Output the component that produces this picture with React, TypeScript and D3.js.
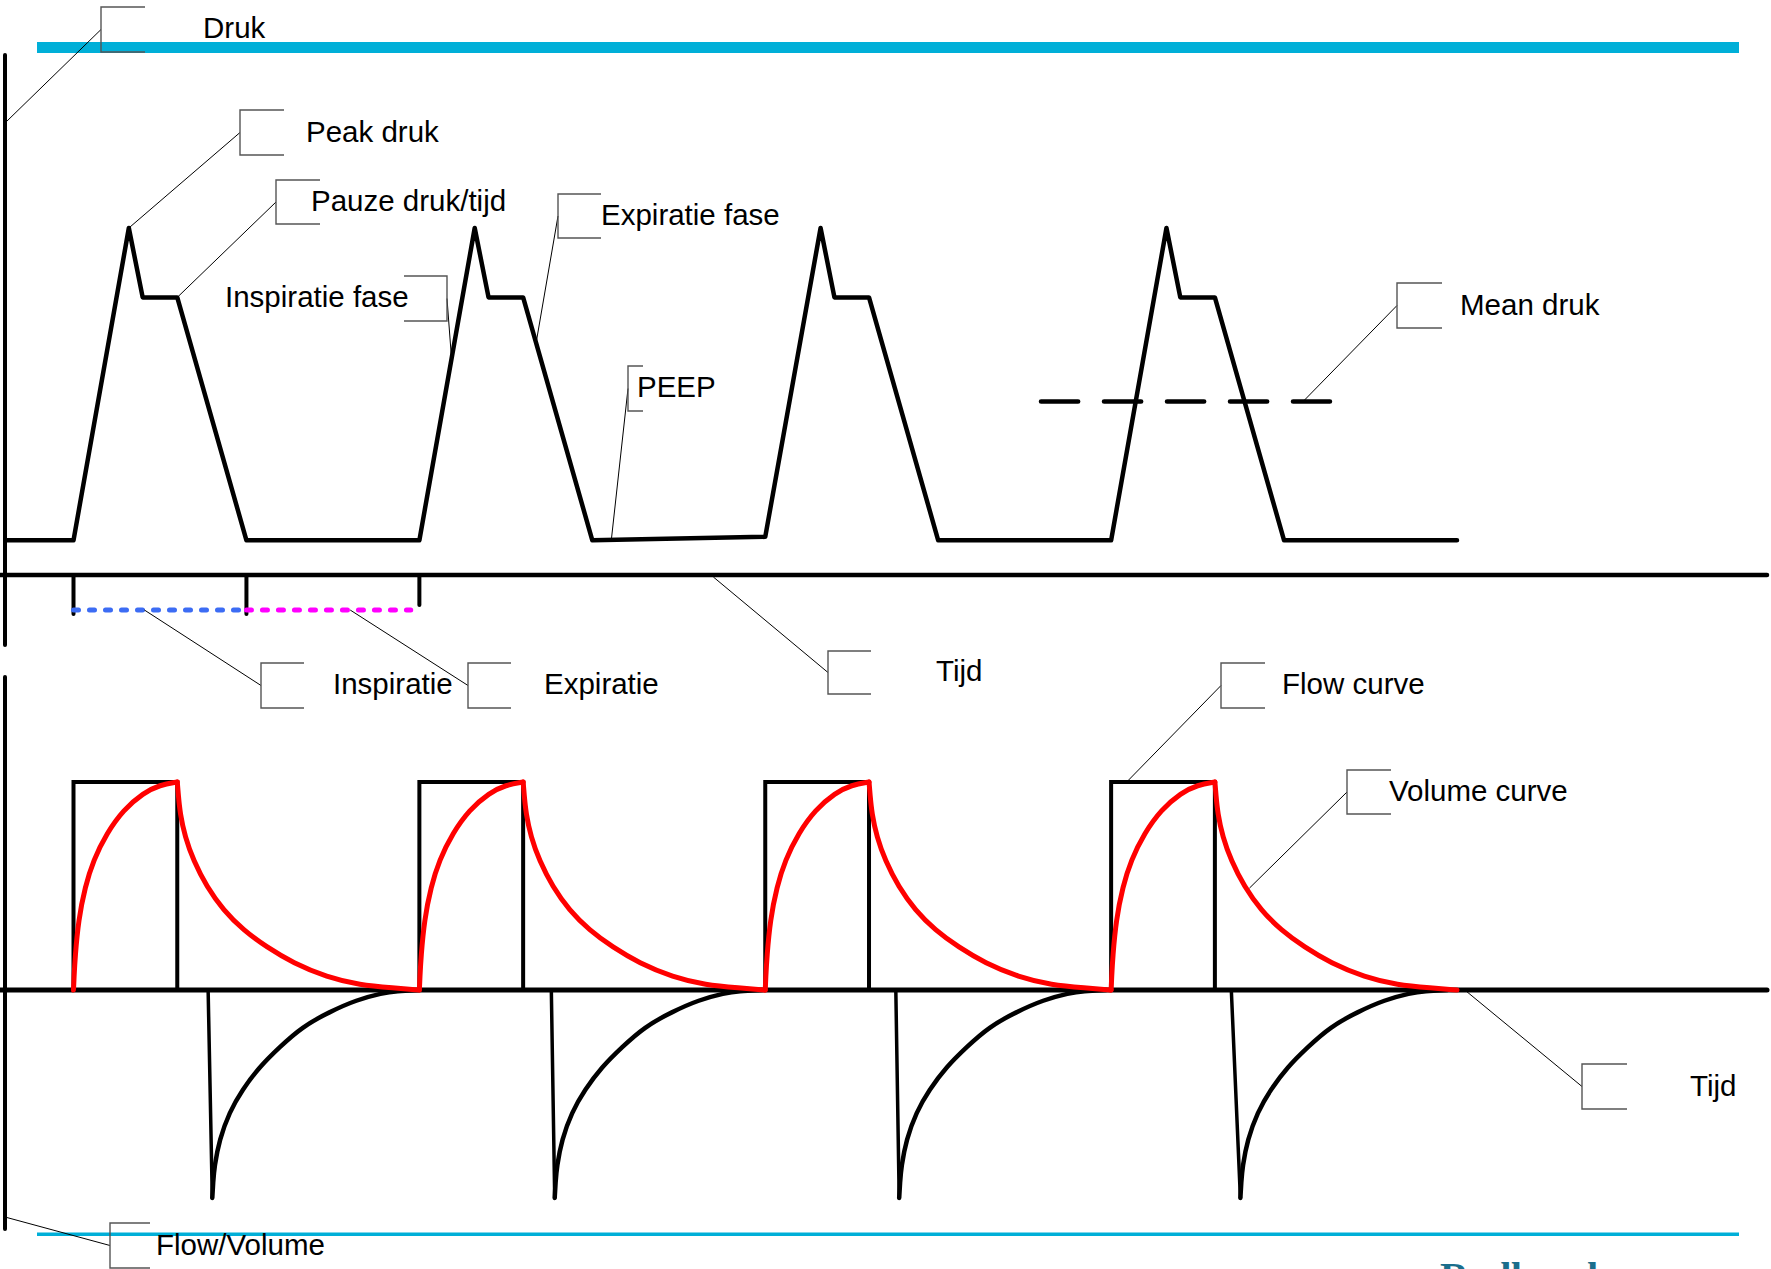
import React from "react";
import * as d3 from "d3";

// ---------- DATA ----------
// time in s, pressure in cmH2O, flow in L/min, volume in mL
const cycleStarts = [0, 4, 8, 12];
const timeDomain = [0, 16];

const pressureTimes = [-0.79, 0, 0.64, 0.8, 1.2, 2.0, 4.0, 4.64, 4.8, 5.2, 6.0, 8.0, 8.64, 8.8, 9.2, 10.0, 12.0, 12.64, 12.8, 13.2, 14.0, 16.0];
const pressureValues = [3, 3, 30, 24, 24, 3, 3, 30, 24, 24, 3, 3.3, 30, 24, 24, 3, 3, 30, 24, 24, 3, 3];
const meanPressure = 15;
const meanPressureSpan = [11.19, 14.53];

const phaseTicks = [0, 2, 4];
const inspirationSpan = [0, 2];
const expirationSpan = [2, 3.9];

const inspFlow = 40;
const inspDuration = 1.2;
const expSpikeOnset = [1.557, 5.526, 9.51, 13.39];
const expSpikeMin = [1.605, 5.565, 9.549, 13.495];
const expFlowOffsets = [0, 0.01, 0.024, 0.082, 0.197, 0.347, 0.544, 0.777, 1.037, 1.357, 1.667, 1.967, 2.127, 2.395];
const expFlowValues = [-40, -37, -34, -28.8, -23.5, -19.2, -14.8, -11, -7.1, -4.2, -1.9, -0.6, -0.2, 0];

const volInspOffsets = [0, 0.006, 0.0185, 0.057, 0.134, 0.23, 0.385, 0.577, 0.808, 1.0, 1.2];
const volInspValues = [0, 30, 79, 168, 248, 312, 377, 433, 474, 493, 500];
const volExpOffsets = [1.2, 1.212, 1.232, 1.29, 1.386, 1.541, 1.733, 1.964, 2.235, 2.54, 2.93, 3.31, 3.7, 4.0];
const volExpValues = [500, 470, 425, 368, 312, 248, 192, 144, 103, 65, 31, 12, 5, 0];

// ---------- LAYOUT ----------
const W = 1771;
const H = 1269;
const FONT = "'Liberation Sans', Arial, sans-serif";
const FONT_SIZE = 29.5;

const x = d3.scaleLinear().domain(timeDomain).range([73.5, 1457]);
const yP = d3.scaleLinear().domain([0, 30]).range([575, 228]);
const yF = d3.scaleLinear().domain([-40, 40]).range([1198, 782]);
const yV = d3.scaleLinear().domain([-500, 500]).range([1198, 782]);

type Pt = [number, number];

const linePx = d3.line<Pt>().x((d) => d[0]).y((d) => d[1]);
const curvePx = d3.line<Pt>().x((d) => d[0]).y((d) => d[1]).curve(d3.curveBasis);

// interpolation helper on the pressure polyline (for leader targets)
function pressureAt(t: number): number {
  for (let i = 0; i < pressureTimes.length - 1; i++) {
    if (t >= pressureTimes[i] && t <= pressureTimes[i + 1]) {
      const f = (t - pressureTimes[i]) / (pressureTimes[i + 1] - pressureTimes[i]);
      return pressureValues[i] + f * (pressureValues[i + 1] - pressureValues[i]);
    }
  }
  return pressureValues[pressureValues.length - 1];
}

type Ann = {
  label: string;
  box: [number, number, number, number];
  reversed?: boolean;
  text: [number, number];
  target: Pt;
};

const annotations: Ann[] = [
  { label: "Druk", box: [101, 7, 145, 52], text: [203, 38], target: [6, 122] },
  { label: "Peak druk", box: [240, 110, 284, 155], text: [306, 142], target: [x(0.64), yP(30)] },
  { label: "Pauze druk/tijd", box: [276, 180, 320, 224], text: [311, 211], target: [x(1.2), yP(24)] },
  { label: "Inspiratie fase", box: [404, 276, 447, 321], reversed: true, text: [225, 307], target: [x(4.372), yP(pressureAt(4.372))] },
  { label: "Expiratie fase", box: [558, 194, 601, 238], text: [601, 225], target: [x(5.35), yP(pressureAt(5.35))] },
  { label: "PEEP", box: [628, 366, 643, 411], text: [637, 397], target: [x(6.22), yP(pressureAt(6.22))] },
  { label: "Mean druk", box: [1397, 283, 1442, 328], text: [1460, 315], target: [x(14.22), yP(meanPressure)] },
  { label: "Inspiratie", box: [261, 663, 304, 708], text: [333, 694], target: [x(0.82), 610] },
  { label: "Expiratie", box: [468, 663, 511, 708], text: [544, 694], target: [x(3.2), 610] },
  { label: "Tijd", box: [828, 651, 871, 694], text: [936, 681], target: [x(7.4), 577] },
  { label: "Flow curve", box: [1221, 663, 1265, 708], text: [1282, 694], target: [x(12.18), yF(inspFlow)] },
  { label: "Volume curve", box: [1347, 770, 1391, 814], text: [1389, 801], target: [x(13.6), yV(245)] },
  { label: "Tijd", box: [1582, 1064, 1627, 1109], text: [1690, 1096], target: [x(16.09), yF(0)] },
  { label: "Flow/Volume", box: [110, 1223, 150, 1268], text: [156, 1255], target: [5, 1217] },
];

function bracketPath(a: Ann): string {
  const [x0, y0, x1, y1] = a.box;
  return a.reversed
    ? `M${x0},${y0}H${x1}V${y1}H${x0}`
    : `M${x1},${y0}H${x0}V${y1}H${x1}`;
}

export default function App() {
  const pressurePts: Pt[] = pressureTimes.map((t, i) => [x(t), yP(pressureValues[i])]);

  const flowRects = cycleStarts.map((c) => {
    const pts: Pt[] = [
      [x(c), yF(0)],
      [x(c), yF(inspFlow)],
      [x(c + inspDuration), yF(inspFlow)],
      [x(c + inspDuration), yF(0)],
    ];
    return linePx(pts) as string;
  });

  const flowSpikes = cycleStarts.map((_, i) => {
    const pts: Pt[] = [
      [x(expSpikeOnset[i]), yF(0)],
      [x(expSpikeMin[i]), yF(expFlowValues[0])],
    ];
    return linePx(pts) as string;
  });

  const flowDecays = cycleStarts.map((_, i) => {
    const pts: Pt[] = expFlowOffsets.map((o, j) => [x(expSpikeMin[i] + o), yF(expFlowValues[j])]);
    return curvePx(pts) as string;
  });

  const volInsp = cycleStarts.map((c) => {
    const pts: Pt[] = volInspOffsets.map((o, j) => [x(c + o), yV(volInspValues[j])]);
    return curvePx(pts) as string;
  });
  const volExp = cycleStarts.map((c) => {
    const pts: Pt[] = volExpOffsets.map((o, j) => [x(c + o), yV(volExpValues[j])]);
    return curvePx(pts) as string;
  });

  return (
    <svg
      width={W}
      height={H}
      viewBox={`0 0 ${W} ${H}`}
      style={{ position: "absolute", left: 0, top: 0, background: "#fff", overflow: "hidden" }}
    >
      <rect x={0} y={0} width={W} height={H} fill="#fff" />

      {/* cyan frame lines */}
      <line x1={37} x2={1739} y1={47.5} y2={47.5} stroke="#00afd8" strokeWidth={11} />
      <line x1={37} x2={1739} y1={1234.3} y2={1234.3} stroke="#00afd8" strokeWidth={3.5} />

      {/* axes */}
      <line x1={5} x2={5} y1={55} y2={645} stroke="#000" strokeWidth={4} strokeLinecap="round" />
      <line x1={5} x2={5} y1={677} y2={1229} stroke="#000" strokeWidth={4} strokeLinecap="round" />
      <line x1={0} x2={1767} y1={575} y2={575} stroke="#000" strokeWidth={4.5} strokeLinecap="round" />
      <line x1={0} x2={1767} y1={yF(0)} y2={yF(0)} stroke="#000" strokeWidth={5} strokeLinecap="round" />

      {/* phase ticks */}
      {phaseTicks.map((t, i) => (
        <line key={"tk" + i} x1={x(t)} x2={x(t)} y1={575} y2={i === phaseTicks.length - 1 ? 605 : 614}
          stroke="#000" strokeWidth={4} strokeLinecap="round" />
      ))}
      {/* inspiration / expiration dotted lines */}
      <line x1={x(inspirationSpan[0])} x2={x(inspirationSpan[1])} y1={610} y2={610}
        stroke="#3c6cf4" strokeWidth={5} strokeDasharray="5 11" strokeLinecap="round" />
      <line x1={x(expirationSpan[0])} x2={x(expirationSpan[1])} y1={610} y2={610}
        stroke="#ff00ff" strokeWidth={5} strokeDasharray="5 11" strokeLinecap="round" />

      {/* pressure curve */}
      <path d={linePx(pressurePts) as string} fill="none" stroke="#000" strokeWidth={4.5} strokeLinejoin="round" strokeLinecap="round" />
      {/* mean pressure */}
      <line x1={x(meanPressureSpan[0])} x2={x(meanPressureSpan[1])} y1={yP(meanPressure)} y2={yP(meanPressure)}
        stroke="#000" strokeWidth={4.7} strokeDasharray="37 26" strokeLinecap="round" />

      {/* flow curve */}
      {flowRects.map((d, i) => (
        <path key={"fr" + i} d={d} fill="none" stroke="#000" strokeWidth={4} strokeLinejoin="miter" />
      ))}
      {flowSpikes.map((d, i) => (
        <path key={"fs" + i} d={d} fill="none" stroke="#000" strokeWidth={3.5} strokeLinecap="round" />
      ))}
      {flowDecays.map((d, i) => (
        <path key={"fd" + i} d={d} fill="none" stroke="#000" strokeWidth={4.5} strokeLinecap="round" />
      ))}

      {/* volume curve */}
      {volInsp.map((d, i) => (
        <path key={"vi" + i} d={d} fill="none" stroke="#ff0000" strokeWidth={5} strokeLinecap="round" />
      ))}
      {volExp.map((d, i) => (
        <path key={"ve" + i} d={d} fill="none" stroke="#ff0000" strokeWidth={5} strokeLinecap="round" />
      ))}

      {/* callouts */}
      {annotations.map((a, i) => {
        const [x0, y0, x1, y1] = a.box;
        const lx = a.reversed ? x1 : x0;
        const ly = (y0 + y1) / 2;
        return (
          <g key={"an" + i}>
            <line x1={lx} y1={ly} x2={a.target[0]} y2={a.target[1]} stroke="#000" strokeWidth={1} />
            <path d={bracketPath(a)} fill="none" stroke="#555" strokeWidth={1.4} />
            <text x={a.text[0]} y={a.text[1]} fontFamily={FONT} fontSize={FONT_SIZE} fill="#000">
              {a.label}
            </text>
          </g>
        );
      })}

      {/* cut-off footer logo text (cut by the page edge, as in the reference) */}
      <text x={1440} y={1290} fontFamily="'Liberation Serif', 'DejaVu Serif', serif" fontWeight="bold"
        fontSize={40} fill="#1b6e8c">
        Radboudumc
      </text>
    </svg>
  );
}
